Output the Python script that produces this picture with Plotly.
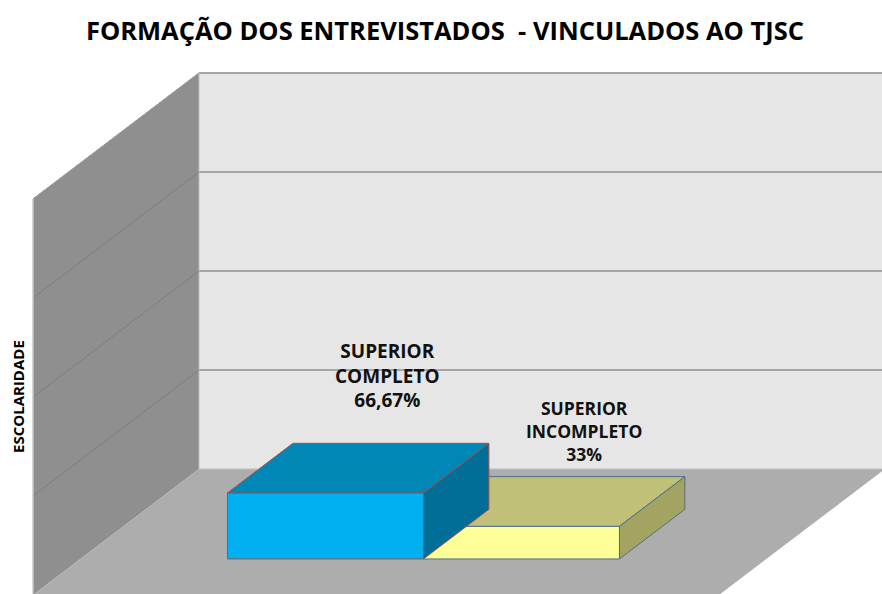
import plotly.graph_objects as go

# ---- data ----
categories = ["SUPERIOR<br>COMPLETO", "SUPERIOR<br>INCOMPLETO"]
values = [66.67, 33.0]
value_labels = ["66,67%", "33%"]
gridlines = [0, 100, 200, 300, 400]
axis_title = "ESCOLARIDADE"
title = "FORMAÇÃO DOS ENTREVISTADOS  - VINCULADOS AO TJSC"

# ---- style ----
front_cols = ["#00B0F0", "#FFFF99"]
top_cols = ["#0087B5", "#C0C078"]
side_cols = ["#006E96", "#A3A362"]
edge_cols = ["#A0504C", "#4F6E8E"]
label_sizes = [19, 17.5]
label_yshift = [28, 9]

W, H = 882, 594

# oblique projection: u (category units), v (value), z (depth 0=back,1=front)
DX = -166 / 196
DY = -126 / 0.99
U_MAX = 3.5
V_MAX = 400
GAP = 0.75
Z_BACK, Z_FRONT = 0.32, 0.714


def P(u, v, z):
    return u + DX * z, v + DY * z


fig = go.Figure()


def poly(pts, fill, line_col=None, lw=0):
    xs, ys = zip(*[P(*p) for p in pts])
    xs = list(xs) + [xs[0]]
    ys = list(ys) + [ys[0]]
    fig.add_trace(go.Scatter(
        x=xs, y=ys, mode="lines", fill="toself", fillcolor=fill,
        line=dict(color=line_col or fill, width=lw if line_col else 0),
        hoverinfo="skip", showlegend=False))


def seg(p1, p2, col, lw):
    (x1, y1), (x2, y2) = P(*p1), P(*p2)
    fig.add_trace(go.Scatter(x=[x1, x2], y=[y1, y2], mode="lines",
                             line=dict(color=col, width=lw),
                             hoverinfo="skip", showlegend=False))


# walls and floor
poly([(0, 0, 0), (U_MAX, 0, 0), (U_MAX, V_MAX, 0), (0, V_MAX, 0)], "#E6E6E6")
poly([(0, 0, 0), (0, V_MAX, 0), (0, V_MAX, 1), (0, 0, 1)], "#8F8F8F")
poly([(0, 0, 0), (U_MAX, 0, 0), (U_MAX, 0, 1), (0, 0, 1)], "#ADADAD")

for g in gridlines[1:]:
    seg((0, g, 0), (U_MAX, g, 0), "#A6A6A6", 2)
    seg((0, g, 0), (0, g, 1), "#7F7F7F", 1)
seg((0, V_MAX, 0), (0, V_MAX, 1), "#A0A0A0", 1)
seg((0, 0, 0), (0, V_MAX, 0), "#BDBDBD", 1)
seg((0, 0, 1), (0, V_MAX, 1), "#C8C8C8", 1.5)
seg((0, 0, 0), (U_MAX, 0, 0), "#C0C0C0", 1)

# bars: draw right one first so the taller left bar's side overlaps it
order = list(range(len(values)))[::-1]
for i in order:
    u0 = GAP + i
    u1 = u0 + 1
    v = values[i]
    ec = edge_cols[i]
    poly([(u0, 0, Z_FRONT), (u1, 0, Z_FRONT), (u1, v, Z_FRONT), (u0, v, Z_FRONT)],
         front_cols[i], ec, 1)
    poly([(u0, v, Z_FRONT), (u1, v, Z_FRONT), (u1, v, Z_BACK), (u0, v, Z_BACK)],
         top_cols[i], ec, 1)
    poly([(u1, 0, Z_FRONT), (u1, 0, Z_BACK), (u1, v, Z_BACK), (u1, v, Z_FRONT)],
         side_cols[i], ec, 1)

for i, v in enumerate(values):
    u_c = GAP + i + 0.5
    x, y = P(u_c, v, Z_BACK)
    fig.add_annotation(x=x - 0.015, y=y, xref="x", yref="y",
                       text="<b>%s<br>%s</b>" % (categories[i], value_labels[i]),
                       showarrow=False, xanchor="center", yanchor="bottom",
                       yshift=label_yshift[i],
                       font=dict(family="Open Sans", size=label_sizes[i], color="#111111"),
                       align="center")

fig.add_annotation(x=18 / W, y=1 - 397 / H, xref="paper", yref="paper",
                   xanchor="center", yanchor="middle",
                   text="<b>%s</b>" % axis_title,
                   showarrow=False, textangle=-90,
                   font=dict(family="Open Sans", size=15, color="#000000"))

x_rng = [-199 / 196, (W - 199) / 196]
y_rng = [(469 - H) / 0.99, 469 / 0.99]

fig.update_layout(
    width=W, height=H,
    margin=dict(l=0, r=0, t=0, b=0),
    paper_bgcolor="white", plot_bgcolor="white",
    xaxis=dict(range=x_rng, visible=False, fixedrange=True),
    yaxis=dict(range=y_rng, visible=False, fixedrange=True),
    title=dict(text="<b>%s</b>" % title, x=445 / W, xanchor="center",
               y=1 - 31 / H, yanchor="middle",
               font=dict(family="Open Sans", size=25.5, color="#000000")),
    showlegend=False,
)

fig.write_html(
    "out.html",
    config={"displayModeBar": False, "staticPlot": True},
    post_script="document.body.style.margin='0px';document.body.style.overflow='hidden';",
)
